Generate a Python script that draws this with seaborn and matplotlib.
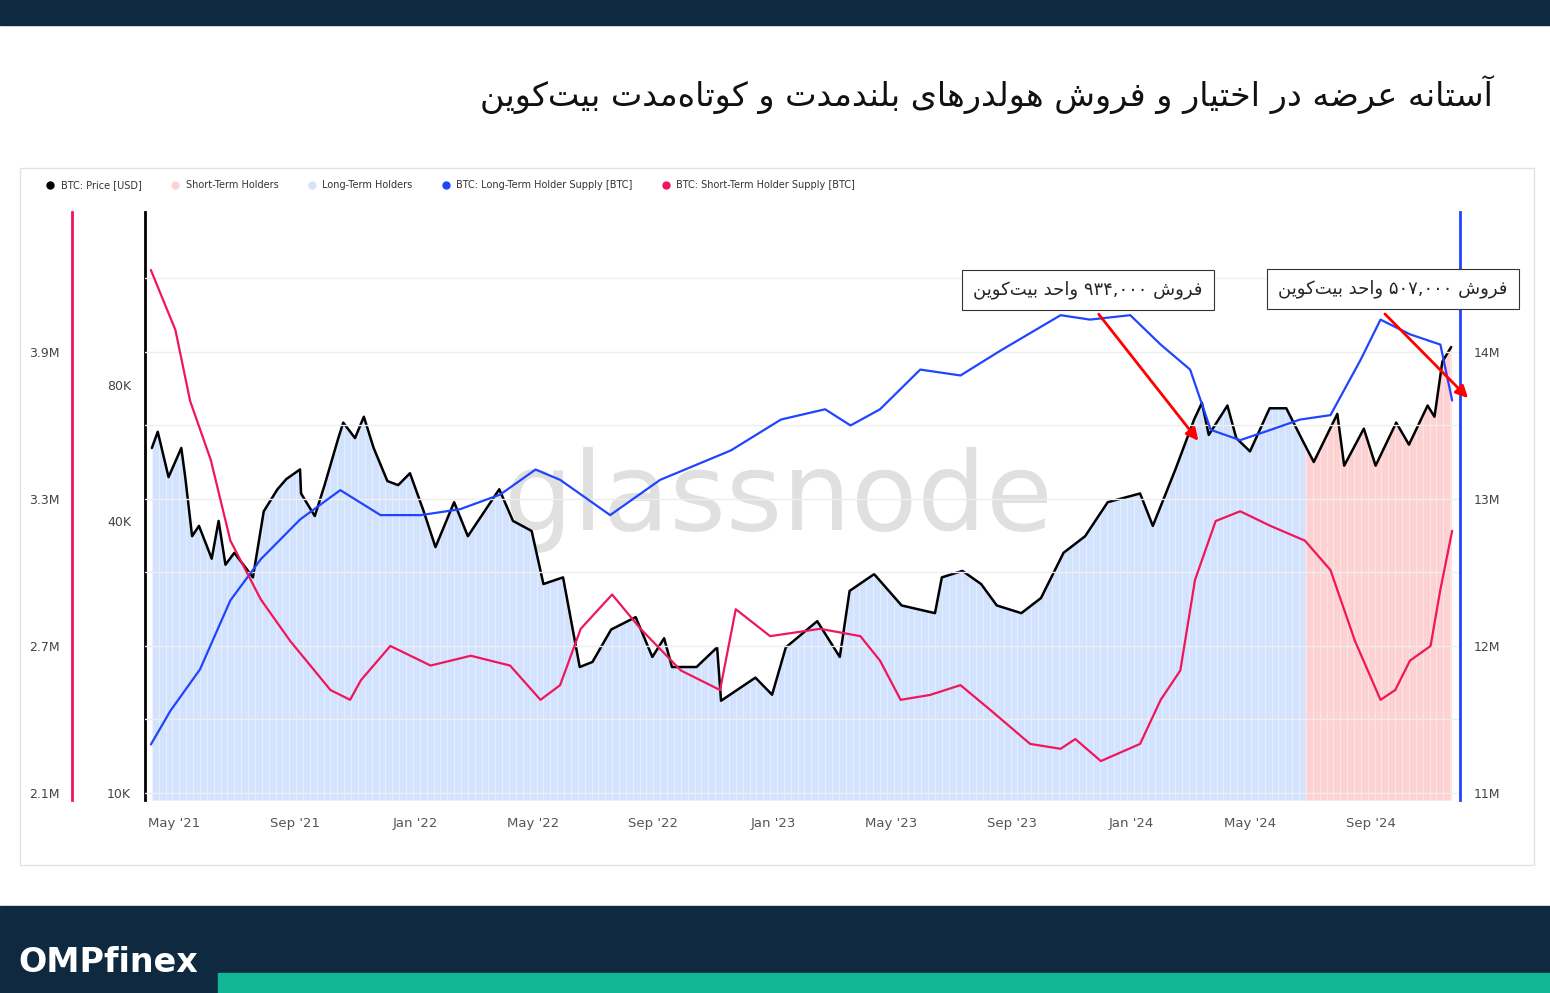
import numpy as np
import pandas as pd
import matplotlib
matplotlib.use("Agg")
import matplotlib.pyplot as plt
import matplotlib.dates as mdates
from matplotlib.lines import Line2D
import seaborn as sns

# ---------------- data ----------------
price_dates = ["2021-04-08","2021-04-14","2021-04-25","2021-05-08","2021-05-12","2021-05-19","2021-05-26",
 "2021-06-08","2021-06-15","2021-06-22","2021-07-01","2021-07-20","2021-07-31","2021-08-14","2021-08-23",
 "2021-09-06","2021-09-07","2021-09-21","2021-10-01","2021-10-15","2021-10-20","2021-11-01","2021-11-10",
 "2021-11-20","2021-12-04","2021-12-15","2021-12-27","2022-01-10","2022-01-22","2022-02-10","2022-02-24",
 "2022-03-28","2022-04-11","2022-04-30","2022-05-12","2022-06-01","2022-06-18","2022-07-01","2022-07-20",
 "2022-08-14","2022-08-31","2022-09-12","2022-09-20","2022-10-15","2022-11-05","2022-11-09","2022-12-14",
 "2022-12-31","2023-01-14","2023-02-15","2023-03-10","2023-03-20","2023-04-14","2023-05-12","2023-06-15",
 "2023-06-22","2023-07-13","2023-08-01","2023-08-17","2023-09-11","2023-10-01","2023-10-24","2023-11-15",
 "2023-12-08","2024-01-10","2024-01-23","2024-02-15","2024-03-05","2024-03-13","2024-03-20","2024-04-08",
 "2024-04-17","2024-05-01","2024-05-21","2024-06-07","2024-06-24","2024-07-05","2024-07-29","2024-08-05",
 "2024-08-25","2024-09-06","2024-09-27","2024-10-10","2024-10-29","2024-11-05","2024-11-13","2024-11-22"]
price_usd = [58000,63000,50000,58000,50000,37000,39000,33000,40000,32000,34000,30000,42000,47000,49500,
 52000,46000,41000,48000,61000,66000,61000,68000,58000,49000,48000,51000,42000,35000,44000,37000,
 47000,40000,38000,29000,30000,19000,19500,23000,24500,20000,22000,19000,19000,21000,16000,18000,
 16500,21000,24000,20000,28000,30500,26000,25000,30000,31000,29000,26000,25000,27000,34000,37000,
 44000,46000,39000,52000,67000,73000,62000,72000,61000,57000,71000,71000,60000,54000,69000,53000,
 64000,53000,66000,59000,72000,68000,90000,97000]

sth_dates = ["2021-04-07","2021-05-02","2021-05-17","2021-06-07","2021-06-27","2021-07-28","2021-08-27",
 "2021-10-07","2021-10-27","2021-11-07","2021-12-07","2022-01-17","2022-02-27","2022-04-08","2022-05-09",
 "2022-05-29","2022-06-19","2022-07-21","2022-08-19","2022-09-29","2022-11-08","2022-11-24","2022-12-29",
 "2023-02-18","2023-03-31","2023-04-20","2023-05-11","2023-06-10","2023-07-11","2023-08-10","2023-09-20",
 "2023-10-21","2023-11-05","2023-12-01","2024-01-10","2024-01-31","2024-02-20","2024-03-06","2024-03-27",
 "2024-04-21","2024-05-22","2024-06-26","2024-07-22","2024-08-16","2024-09-11","2024-09-26","2024-10-11",
 "2024-11-01","2024-11-11","2024-11-23"]
sth_supply_m = [4.235,3.99,3.70,3.46,3.13,2.89,2.72,2.52,2.48,2.56,2.70,2.62,2.66,2.62,2.48,
 2.54,2.77,2.91,2.77,2.60,2.52,2.85,2.74,2.77,2.74,2.64,2.48,2.50,2.54,2.44,2.30,
 2.28,2.32,2.23,2.30,2.48,2.60,2.97,3.21,3.25,3.19,3.13,3.01,2.72,2.48,2.52,2.64,
 2.70,2.93,3.17]

lth_dates = ["2021-04-07","2021-04-27","2021-05-27","2021-06-27","2021-07-28","2021-09-06","2021-10-17",
 "2021-11-27","2022-01-07","2022-02-16","2022-03-29","2022-05-04","2022-05-29","2022-07-19","2022-09-08",
 "2022-11-19","2023-01-09","2023-02-23","2023-03-21","2023-04-20","2023-05-31","2023-07-11","2023-08-21",
 "2023-10-21","2023-11-20","2023-12-31","2024-01-31","2024-03-01","2024-03-22","2024-04-21","2024-05-22",
 "2024-06-21","2024-07-22","2024-08-22","2024-09-11","2024-10-11","2024-11-11","2024-11-23"]
lth_supply_m = [11.33,11.56,11.84,12.31,12.59,12.86,13.06,12.89,12.89,12.93,13.03,13.20,13.13,12.89,13.13,
 13.33,13.54,13.61,13.50,13.61,13.88,13.84,14.01,14.25,14.22,14.25,14.05,13.88,13.47,13.40,13.47,
 13.54,13.57,13.95,14.22,14.12,14.05,13.67]

sth_start = "2024-06-26"
price_ticks = [10000, 40000, 80000]
price_labels = ["10K", "40K", "80K"]
sth_ticks = [2.1, 2.7, 3.3, 3.9]
sth_labels = ["2.1M", "2.7M", "3.3M", "3.9M"]
lth_ticks = [11, 12, 13, 14]
lth_labels = ["11M", "12M", "13M", "14M"]

title = "آستانه عرضه در اختیار و فروش هولدرهای بلندمدت و کوتاه‌مدت بیت‌کوین"
note1 = "فروش ۹۳۴,۰۰۰ واحد بیت‌کوین"
note2 = "فروش ۵۰۷,۰۰۰ واحد بیت‌کوین"

# --------------- minimal Persian shaping ---------------
FORMS = {  # isolated, final, initial, medial
 'ا': (0xFE8D, 0xFE8E, None, None), 'آ': (0xFE81, 0xFE82, None, None),
 'ب': (0xFE8F, 0xFE90, 0xFE91, 0xFE92), 'ت': (0xFE95, 0xFE96, 0xFE97, 0xFE98),
 'ح': (0xFEA1, 0xFEA2, 0xFEA3, 0xFEA4),
 'خ': (0xFEA5, 0xFEA6, 0xFEA7, 0xFEA8), 'د': (0xFEA9, 0xFEAA, None, None),
 'ر': (0xFEAD, 0xFEAE, None, None), 'س': (0xFEB1, 0xFEB2, 0xFEB3, 0xFEB4),
 'ش': (0xFEB5, 0xFEB6, 0xFEB7, 0xFEB8), 'ض': (0xFEBD, 0xFEBE, 0xFEBF, 0xFEC0),
 'ع': (0xFEC9, 0xFECA, 0xFECB, 0xFECC), 'ف': (0xFED1, 0xFED2, 0xFED3, 0xFED4),
 'ک': (0xFB8E, 0xFB8F, 0xFB90, 0xFB91), 'ل': (0xFEDD, 0xFEDE, 0xFEDF, 0xFEE0),
 'م': (0xFEE1, 0xFEE2, 0xFEE3, 0xFEE4), 'ن': (0xFEE5, 0xFEE6, 0xFEE7, 0xFEE8),
 'ه': (0xFEE9, 0xFEEA, 0xFEEB, 0xFEEC), 'و': (0xFEED, 0xFEEE, None, None),
 'ی': (0xFBFC, 0xFBFD, 0xFBFE, 0xFBFF),
}
def dual(c):
    return c in FORMS and FORMS[c][2] is not None

def shape(s):
    out = []
    for i, c in enumerate(s):
        if c not in FORMS:
            if c != '\u200c':
                out.append(c)
            continue
        prev = s[i-1] if i > 0 else ''
        nxt = s[i+1] if i + 1 < len(s) else ''
        jp = dual(prev)
        jn = dual(c) and nxt in FORMS
        f = FORMS[c]
        if jp and jn: code = f[3]
        elif jp: code = f[1]
        elif jn: code = f[2]
        else: code = f[0]
        out.append(chr(code))
    rev = out[::-1]
    res, buf = [], []
    isnum = lambda ch: ch in '۰۱۲۳۴۵۶۷۸۹0123456789,'
    for ch in rev:
        if isnum(ch):
            buf.append(ch)
        else:
            if buf:
                res.extend(buf[::-1]); buf = []
            res.append(ch)
    if buf: res.extend(buf[::-1])
    return ''.join(res)

# --------------- figure ---------------
sns.set_style("white")
W, H = 1550, 993
fig = plt.figure(figsize=(15.5, 9.93), dpi=100)
fig.patch.set_facecolor("white")

def px(x0, y0, w, h):
    return [x0 / W, 1 - (y0 + h) / H, w / W, h / H]

bg = fig.add_axes([0, 0, 1, 1], zorder=-5); bg.axis("off")
bg.set_xlim(0, W); bg.set_ylim(H, 0)
bg.add_patch(plt.Rectangle((0, 0), W, 25, color="#0f2a40"))
bg.add_patch(plt.Rectangle((0, 906), W, 87, color="#0f2a40"))
bg.add_patch(plt.Rectangle((218, 973), W - 218, 20, color="#12b594"))
bg.add_patch(plt.Rectangle((20, 168), 1514, 697, fill=False, ec="#e3e3e3", lw=1))
fig.text(18 / W, 1 - 972 / H, "OMPfinex", color="white", fontsize=24, fontweight="bold",
         family="DejaVu Sans", va="baseline")
fig.text(1493 / W, 1 - 95 / H, shape(title), ha="right", va="center", fontsize=24,
         family="DejaVu Sans", color="#111111")
fig.text(778 / W, 1 - 500 / H, "glassnode", ha="center", va="center", fontsize=78,
         color="#d4d4d4", alpha=0.7, family="DejaVu Sans", zorder=0)

dp = pd.DataFrame({"date": pd.to_datetime(price_dates), "price": price_usd})
ds = pd.DataFrame({"date": pd.to_datetime(sth_dates), "sth": sth_supply_m})
dl = pd.DataFrame({"date": pd.to_datetime(lth_dates), "lth": lth_supply_m})

x0, x1 = pd.Timestamp("2021-04-01"), pd.Timestamp("2024-12-01")
ax = fig.add_axes(px(145, 212, 1315, 588))
ax.set_facecolor("none")
ax.set_zorder(2)

days = pd.date_range(dp.date.min(), dp.date.max(), freq="D")
pint = np.interp(days.values.astype("int64"), dp.date.values.astype("int64"), dp.price.values)
split = pd.Timestamp(sth_start)
ymin_p, ymax_p = 9650, 193000
ax.fill_between(days, ymin_p, pint, where=days <= split, color="#d3e3fd", lw=0, zorder=1)
ax.fill_between(days, ymin_p, pint, where=days >= split, color="#fcd2d3", lw=0, zorder=1)
for d in pd.date_range("2021-04-01", "2024-12-01", freq="7D"):
    if dp.date.min() <= d <= dp.date.max():
        v = np.interp(d.value, dp.date.values.astype("int64"), dp.price.values)
        ax.plot([d, d], [ymin_p, v], color="white", lw=0.5, alpha=0.6, zorder=1.5)
sns.lineplot(data=dp, x="date", y="price", ax=ax, color="black", lw=1.8, zorder=5)
ax.set_yscale("log")
ax.set_ylim(ymin_p, ymax_p)
ax.set_xlim(x0, x1)
ax.set_yticks(price_ticks); ax.set_yticklabels(price_labels)
ax.yaxis.set_minor_locator(matplotlib.ticker.NullLocator())
ax.tick_params(axis="y", length=0, pad=10, labelsize=9, colors="#444444")
ax.xaxis.set_major_locator(mdates.MonthLocator(bymonth=[1, 5, 9]))
ax.xaxis.set_major_formatter(mdates.DateFormatter("%b '%y"))
ax.tick_params(axis="x", length=0, pad=12, labelsize=9.5, colors="#555555")
ax.set_xlabel(""); ax.set_ylabel("")
for s in ["top", "right", "bottom"]:
    ax.spines[s].set_visible(False)
ax.spines["left"].set_color("black"); ax.spines["left"].set_linewidth(2)

axs = ax.twinx()
axs.set_zorder(3)
sns.lineplot(data=ds, x="date", y="sth", ax=axs, color="#f0165a", lw=1.6)
axs.set_ylim(2.071, 4.472)
axs.yaxis.tick_left(); axs.yaxis.set_label_position("left")
axs.spines["left"].set_position(("outward", 73 * 0.72))
axs.spines["left"].set_color("#f0165a"); axs.spines["left"].set_linewidth(2)
for s in ["top", "right", "bottom"]:
    axs.spines[s].set_visible(False)
axs.set_yticks(sth_ticks); axs.set_yticklabels(sth_labels)
axs.tick_params(axis="y", length=0, pad=9, labelsize=9, colors="#444444")
axs.set_ylabel(""); axs.set_xlabel("")

axl = ax.twinx()
sns.lineplot(data=dl, x="date", y="lth", ax=axl, color="#1f45ff", lw=1.6)
axl.set_ylim(10.952, 14.952)
axl.set_yticks(lth_ticks); axl.set_yticklabels(lth_labels)
axl.set_yticks(np.arange(11, 15, 0.5), minor=True)
axl.grid(True, which="both", axis="y", color="#eeeeee", lw=1)
axl.set_axisbelow(True)
for s in ["top", "left", "bottom"]:
    axl.spines[s].set_visible(False)
axl.spines["right"].set_color("#1f45ff"); axl.spines["right"].set_linewidth(2)
axl.tick_params(axis="y", which="both", length=0, pad=10, labelsize=9, colors="#444444")
axl.set_ylabel(""); axl.set_xlabel("")
axl.set_xlim(x0, x1); axs.set_xlim(x0, x1)
axl.set_zorder(2.5); axl.patch.set_visible(False)

handles = [Line2D([], [], marker="o", ls="", color=c, markersize=5) for c in
           ["black", "#fcd2d3", "#d3e3fd", "#1f45ff", "#f0165a"]]
labels = ["BTC: Price [USD]", "Short-Term Holders", "Long-Term Holders",
          "BTC: Long-Term Holder Supply [BTC]", "BTC: Short-Term Holder Supply [BTC]"]
fig.legend(handles, labels, loc="center left", bbox_to_anchor=(32 / W, 1 - 185 / H), ncol=5,
           frameon=False, fontsize=7, handletextpad=0.1, columnspacing=2.4, labelcolor="#333333")

for txt, cx, cy, tail, head in [(note1, 1088, 290, (1097, 312), (1200, 443)),
                                 (note2, 1393, 289, (1383, 312), (1470, 400))]:
    fig.text(cx / W, 1 - cy / H, shape(txt), ha="center", va="center", fontsize=13,
             family="DejaVu Sans", zorder=10,
             bbox=dict(boxstyle="square,pad=0.6", fc="white", ec="#333333", lw=0.8))
    fig.add_artist(matplotlib.patches.FancyArrowPatch(
        (tail[0] / W, 1 - tail[1] / H), (head[0] / W, 1 - head[1] / H),
        transform=fig.transFigure, arrowstyle="-|>", mutation_scale=18, color="#ff0000", lw=2, zorder=10))

fig.savefig("out.png", dpi=100)
